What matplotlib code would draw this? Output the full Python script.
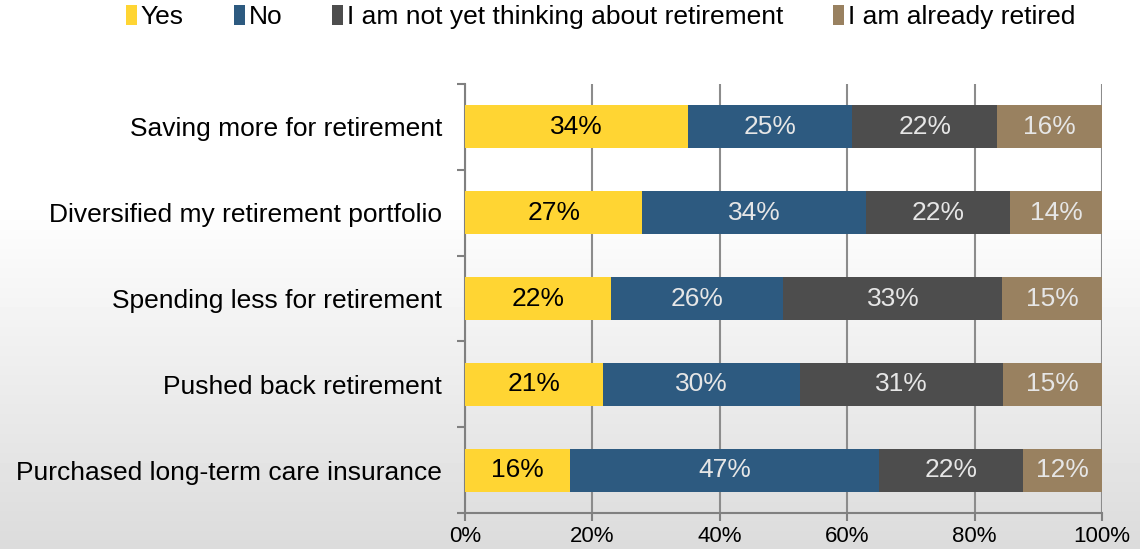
import matplotlib.pyplot as plt
import numpy as np

plt.rcParams['font.family'] = ['Liberation Sans', 'DejaVu Sans']

categories = ['Saving more for retirement',
              'Diversified my retirement portfolio',
              'Spending less for retirement',
              'Pushed back retirement',
              'Purchased long-term care insurance']
series = ['Yes', 'No', 'I am not yet thinking about retirement', 'I am already retired']
yes = [34, 27, 22, 21, 16]
no = [25, 34, 26, 30, 47]
not_yet = [22, 22, 33, 31, 22]
retired = [16, 14, 15, 15, 12]
xticks = [0, 20, 40, 60, 80, 100]

colors = ['#FFD533', '#2D5A80', '#4D4D4D', '#998160']
text_colors = ['black', '#E6E6E6', '#E6E6E6', '#E6E6E6']

fig = plt.figure(figsize=(11.4, 5.49), dpi=100)

# background gradient: white on top, light grey at bottom
bg = fig.add_axes([0, 0, 1, 1], zorder=-10)
grad = np.concatenate([np.ones(200), np.linspace(1, 0.86, 349)])[:, None]
bg.imshow(grad, aspect='auto', cmap='gray', vmin=0, vmax=1, extent=[0, 1, 0, 1])
bg.axis('off')

ax = fig.add_axes([465 / 1140, 1 - 513 / 549, 637 / 1140, 429 / 549])
ax.patch.set_alpha(0)

data = np.array([yes, no, not_yet, retired], dtype=float)
pct = data / data.sum(axis=0) * 100
ypos = np.arange(len(categories))
left = np.zeros(len(categories))
for i, name in enumerate(series):
    bars = ax.barh(ypos, pct[i], left=left, height=0.5, color=colors[i],
                   label=name, zorder=3)
    for j, b in enumerate(bars):
        ax.text(left[j] + pct[i][j] / 2, ypos[j], f'{int(data[i][j])}%',
                ha='center', va='center', fontsize=19, color=text_colors[i],
                zorder=4)
    left += pct[i]

ax.set_xlim(0, 100)
ax.set_ylim(len(categories) - 0.5, -0.5)
ax.set_xticks(xticks)
ax.set_xticklabels([f'{t}%' for t in xticks], fontsize=16)
ax.set_yticks(ypos)
ax.set_yticklabels(categories, fontsize=19)
ax.set_yticks(np.arange(-0.5, len(categories)), minor=True)
ax.tick_params(axis='y', which='major', length=0, pad=16.5)
ax.tick_params(axis='y', which='minor', length=6, color='#808080', width=1.5)
ax.tick_params(axis='x', length=6, color='#808080', width=1.5, pad=3)
ax.xaxis.grid(True, color='#8C8C8C', linewidth=1.5, zorder=0)
for s in ['top', 'right']:
    ax.spines[s].set_visible(False)
for s in ['left', 'bottom']:
    ax.spines[s].set_color('#808080')
    ax.spines[s].set_linewidth(1.5)

fig.legend(loc='upper center', bbox_to_anchor=(0.527, 1.035), ncol=4, frameon=False,
           fontsize=19, handlelength=0.4, handleheight=0.8, handletextpad=0.15,
           columnspacing=1.9)

fig.savefig('out.png', dpi=100)
